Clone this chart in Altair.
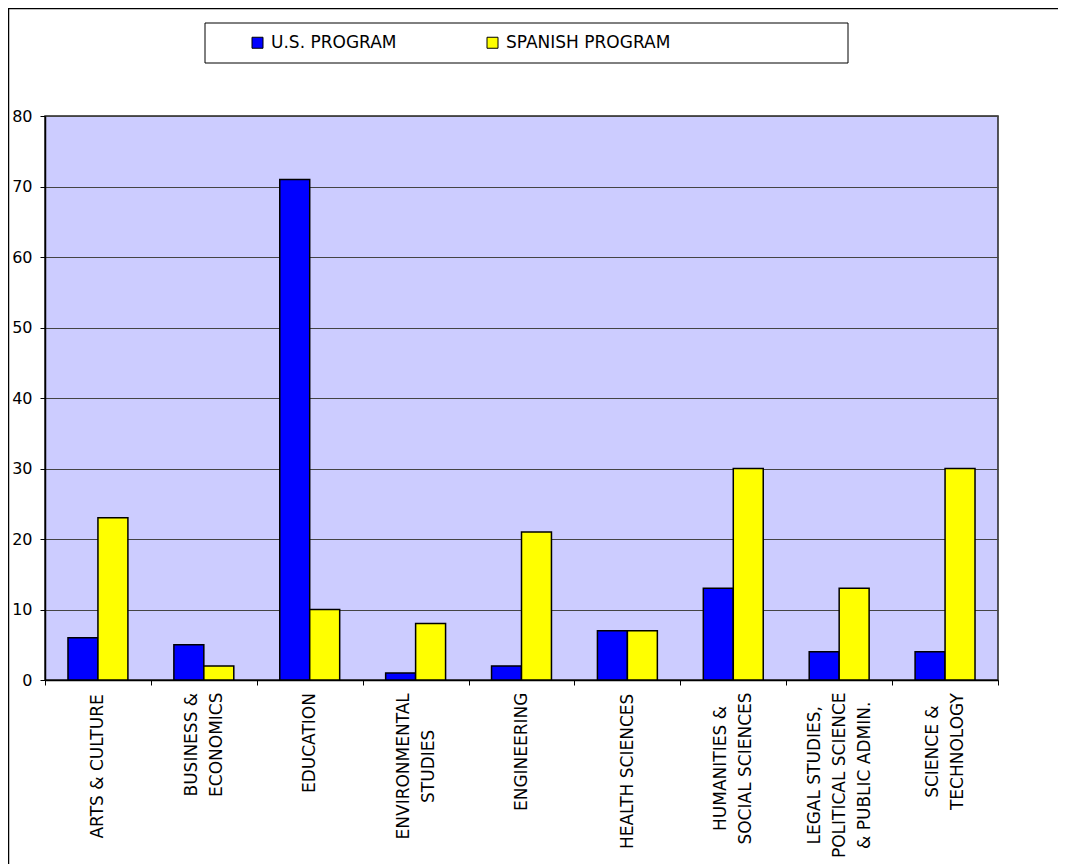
import altair as alt
import pandas as pd

categories = [
    "ARTS & CULTURE",
    "BUSINESS &\nECONOMICS",
    "EDUCATION",
    "ENVIRONMENTAL\nSTUDIES",
    "ENGINEERING",
    "HEALTH SCIENCES",
    "HUMANITIES &\nSOCIAL SCIENCES",
    "LEGAL STUDIES,\nPOLITICAL SCIENCE\n& PUBLIC ADMIN.",
    "SCIENCE &\nTECHNOLOGY",
]
series = ["U.S. PROGRAM", "SPANISH PROGRAM"]
us_values = [6, 5, 71, 1, 2, 7, 13, 4, 4]
spanish_values = [23, 2, 10, 8, 21, 7, 30, 13, 30]
colors = ["#0000FF", "#FFFF00"]
y_ticks = [0, 10, 20, 30, 40, 50, 60, 70, 80]

rows = []
for c, u, s in zip(categories, us_values, spanish_values):
    rows.append({"category": c, "series": series[0], "value": u})
    rows.append({"category": c, "series": series[1], "value": s})
df = pd.DataFrame(rows)

FONT = "DejaVu Sans"
XFS = 17
LINE_H = 25
W, H = 953, 564

# approximate DejaVu Sans advance widths (em) used only to centre multi-line labels
_cw = {"A": .684, "B": .686, "C": .698, "D": .770, "E": .632, "F": .575, "G": .775,
       "H": .752, "I": .295, "J": .295, "K": .656, "L": .557, "M": .863, "N": .748,
       "O": .787, "P": .603, "Q": .787, "R": .695, "S": .635, "T": .611, "U": .732,
       "V": .684, "W": .989, "X": .685, "Y": .611, "Z": .685, " ": .318, "&": .780,
       ",": .318, ".": .318}


def text_w(s):
    return sum(_cw.get(ch, .6) for ch in s) * XFS


pad_conditions = []
off_conditions = []
for c in categories:
    lines = c.split("\n")
    longest = max(text_w(l) for l in lines)
    test = "datum.value == " + repr(c).replace("\\n", "\\n")
    pad_conditions.append({"test": "datum.value == '" + c.replace("\n", "\\n") + "'",
                           "value": round(7 + longest / 2, 1)})
    if len(lines) > 1:
        off_conditions.append({"test": "datum.value == '" + c.replace("\n", "\\n") + "'",
                               "value": -(len(lines) - 1) * LINE_H / 2})

bars = alt.Chart(df).mark_bar(stroke="black", strokeWidth=1.5).encode(
    x=alt.X(
        "category:N",
        sort=categories,
        scale=alt.Scale(paddingInner=0, paddingOuter=0),
        axis=alt.Axis(
            title=None,
            labelAngle=270,
            labelAlign="center",
            labelBaseline="middle",
            labelExpr="split(datum.label, '\\n')",
            labelFont=FONT,
            labelFontSize=XFS,
            labelLineHeight=LINE_H,
            labelPadding={"condition": pad_conditions, "value": 80},
            labelOffset={"condition": off_conditions, "value": 0},
            labelLimit=400,
            labelOverlap=False,
            labelColor="black",
            tickSize=5,
            tickBand="extent",
            tickColor="black",
            domainColor="black",
            domainWidth=1.5,
        ),
    ),
    xOffset=alt.XOffset(
        "series:N", sort=series, scale=alt.Scale(paddingInner=0, paddingOuter=0.767)
    ),
    y=alt.Y(
        "value:Q",
        scale=alt.Scale(domain=[0, 80], nice=False),
        axis=alt.Axis(
            values=y_ticks,
            title=None,
            grid=True,
            gridColor="#444444",
            gridWidth=1,
            tickSize=5,
            tickColor="black",
            domainColor="black",
            domainWidth=1.5,
            labelPadding=8,
            labelFont=FONT,
            labelFontSize=16,
            labelColor="black",
        ),
    ),
    color=alt.Color(
        "series:N",
        sort=series,
        scale=alt.Scale(domain=series, range=colors),
        legend=alt.Legend(
            title=None,
            orient="none",
            direction="horizontal",
            legendX=204,
            legendY=-82,
            symbolType="square",
            symbolSize=121,
            symbolStrokeColor="black",
            symbolStrokeWidth=1,
            symbolOpacity=1,
            labelFont=FONT,
            labelFontSize=17,
            labelColor="black",
            labelLimit=400,
            labelOffset=5,
            columnPadding=87,
            padding=0,
        ),
    ),
)

one = pd.DataFrame({"k": [0]})

legend_box = alt.Chart(one).mark_rect(fill="white", stroke="black", strokeWidth=1).encode(
    x=alt.value(160), x2=alt.value(803), y=alt.value(-93), y2=alt.value(-53)
)

border_top = alt.Chart(one).mark_rule(color="black", strokeWidth=1.5).encode(
    x=alt.value(-37), x2=alt.value(1020), y=alt.value(-107.5)
)
border_left = alt.Chart(one).mark_rule(color="black", strokeWidth=1.5).encode(
    x=alt.value(-36.5), y=alt.value(-108), y2=alt.value(760)
)

chart = (
    alt.layer(legend_box, border_top, border_left, bars)
    .properties(
        width=W,
        height=H,
        autosize=alt.AutoSizeParams(type="none"),
        padding={"left": 37, "top": 108, "right": 60, "bottom": 184},
        background="white",
    )
    .configure_view(fill="#CCCCFF", stroke="#222222", strokeWidth=1.5)
)

chart.save("out.html", embed_options={"renderer": "svg", "actions": False})
